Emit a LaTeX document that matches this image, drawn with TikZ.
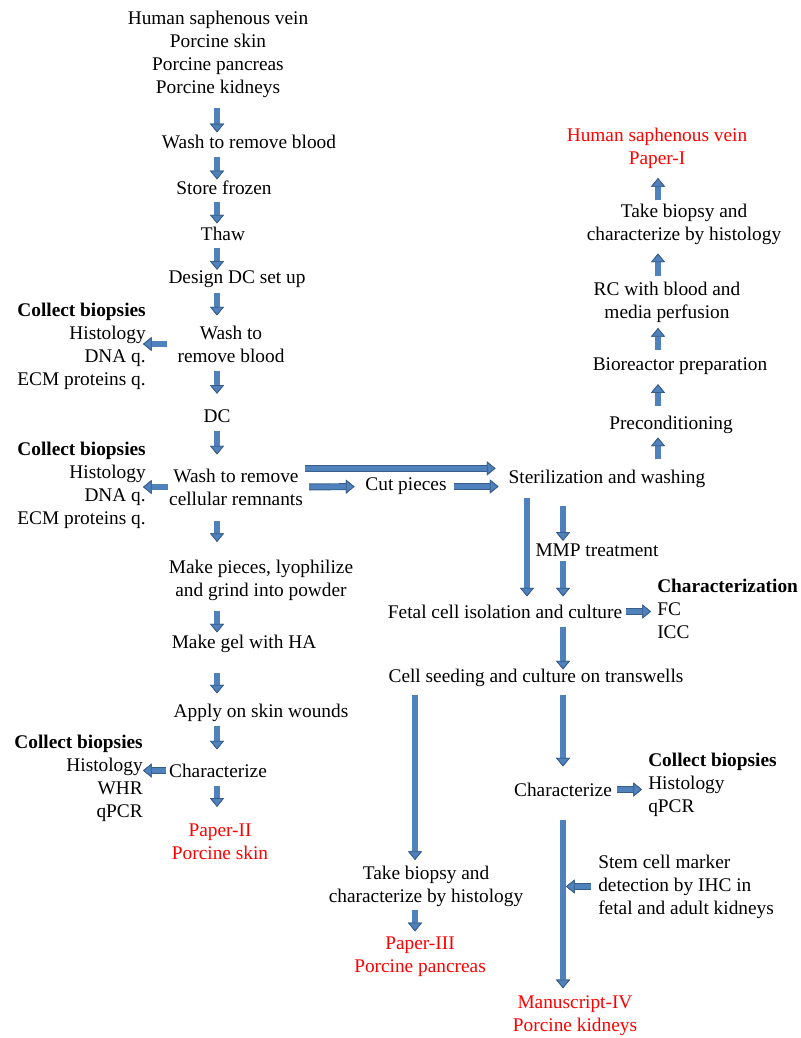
\documentclass[tikz,border=0pt]{standalone}
\usepackage{fontspec}
\setmainfont{Liberation Serif}
\usepackage{tikz}
\usetikzlibrary{arrows.meta}
\definecolor{cBlue}{HTML}{4F81BD}
\definecolor{cNavy}{HTML}{385D8A}
\definecolor{cRed}{HTML}{FF0000}

\begin{document}
\begin{tikzpicture}[x=0.75pt, y=-0.75pt,
        font=\fontsize{14.5pt}{17.25pt}\selectfont,
        txt/.style={inner sep=0pt, align=center},
        paper/.style={txt, text=cRed},
        barrow/.style={draw=cBlue, line width=3.8pt,
            -{Triangle[length=6.5pt, width=10.5pt, color=cNavy, fill=cBlue, line width=0.6pt]},
            preaction={draw=cNavy, line width=5.2pt,
                -{Triangle[length=6.5pt, width=10.5pt, color=cNavy, line width=0.6pt]}}}]
        \useasboundingbox (0,0) rectangle (800,1038);
        \coordinate (colL) at (217,0);
        \coordinate (colR) at (658,0);
        \coordinate (colA) at (527,0);
        \coordinate (colB) at (563,0);
        \coordinate (colC) at (415,0);
        \coordinate (kline) at (566,0);

        \node[txt] (src) at (218,54.5) {Human saphenous vein\\Porcine skin\\Porcine pancreas\\Porcine kidneys};
        \node[txt] (washA) at (249,141.5) {Wash to remove blood};
        \node[txt] (store) at (224,187.5) {Store frozen};
        \node[txt] (thaw) at (223,233.5) {Thaw};
        \node[txt] (design) at (237,279.5) {Design DC set up};
        \node[txt] (washB) at (231,344) {Wash to\\remove blood};
        \node[txt, anchor=east, align=right] (bioA) at (146,346.5) {\textbf{Collect biopsies}\\Histology\\DNA q.\\ECM proteins q.};
        \node[txt] (dc) at (217,416.5) {DC};
        \node[txt] (washC) at (236,487) {Wash to remove\\cellular remnants};
        \node[txt, anchor=east, align=right] (bioB) at (146,485) {\textbf{Collect biopsies}\\Histology\\DNA q.\\ECM proteins q.};
        \node[txt] (cut) at (406,486.5) {Cut pieces};
        \node[txt] (steril) at (607,478.5) {Sterilization and washing};
        \node[txt] (pieces) at (261,580.5) {Make pieces, lyophilize\\and grind into powder};
        \node[txt] (gel) at (244,643.5) {Make gel with HA};
        \node[txt] (apply) at (261,712.5) {Apply on skin wounds};
        \node[txt] (charL) at (218,770.5) {Characterize};
        \node[txt, anchor=east, align=right] (bioC) at (143,778) {\textbf{Collect biopsies}\\Histology\\WHR\\qPCR};
        \node[paper] (paperII) at (220,842) {Paper-II\\Porcine skin};

        \node[paper] (paperI) at (657,148.5) {Human saphenous vein\\Paper-I};
        \node[txt] (biopsyT) at (684,224) {Take biopsy and\\characterize by histology};
        \node[txt] (rc) at (667,302.5) {RC with blood and\\media perfusion};
        \node[txt] (bioreact) at (680,366.5) {Bioreactor preparation};
        \node[txt] (precond) at (671,424.5) {Preconditioning};

        \node[txt] (mmp) at (597,550.5) {MMP treatment};
        \node[txt] (fetal) at (505,611.5) {Fetal cell isolation and culture};
        \node[txt, anchor=west, align=left] (charz) at (657,608.5) {\textbf{Characterization}\\FC\\ICC};
        \node[txt] (seed) at (536,677.5) {Cell seeding and culture on transwells};
        \node[txt] (charR) at (563,789.5) {Characterize};
        \node[txt, anchor=west, align=left] (bioD) at (648,784.5) {\textbf{Collect biopsies}\\Histology\\qPCR};
        \node[txt] (biopsyB) at (426,886.5) {Take biopsy and\\characterize by histology};
        \node[paper] (paperIII) at (420,956.5) {Paper-III\\Porcine pancreas};
        \node[txt, anchor=west, align=left] (stem) at (598,886.5) {Stem cell marker\\detection by IHC in\\fetal and adult kidneys};
        \node[paper] (paperIV) at (575,1015.5) {Manuscript-IV\\Porcine kidneys};

        \draw[barrow, shorten <=7.5pt, shorten >=1.5pt] (src.south -| colL) -- (washA.north -| colL);
        \draw[barrow, shorten <=6pt, shorten >=0.75pt] (washA.south -| colL) -- (store.north -| colL);
        \draw[barrow, shorten <=5.25pt, shorten >=2.25pt] (store.south -| colL) -- (thaw.north -| colL);
        \draw[barrow, shorten <=5.25pt, shorten >=0.75pt] (thaw.south -| colL) -- (design.north -| colL);
        \draw[barrow, shorten <=3.75pt, shorten >=7.5pt] (design.south -| colL) -- (washB.north -| colL);
        \draw[barrow, shorten <=6pt, shorten >=12pt] (washB.south -| colL) -- (dc.north -| colL);
        \draw[barrow, shorten <=6pt, shorten >=10.5pt] (dc.south -| colL) -- (washC.north -| colL);
        \draw[barrow, shorten <=11.25pt, shorten >=13.5pt] (washC.south -| colL) -- (pieces.north -| colL);
        \draw[barrow, shorten <=7.5pt, shorten >=1.5pt] (pieces.south -| colL) -- (gel.north -| colL);
        \draw[barrow, shorten <=15pt, shorten >=7.5pt] (gel.south -| colL) -- (apply.north -| colL);
        \draw[barrow, shorten <=3pt, shorten >=10.5pt] (apply.south -| colL) -- (charL.north -| colL);
        \draw[barrow, shorten <=6pt, shorten >=12.75pt] (charL.south -| colL) -- (paperII.north -| colL);

        \draw[barrow, shorten <=7.5pt, shorten >=-2.25pt] (washB.west) -- (washB.west -| bioA.east);
        \draw[barrow, shorten <=0.75pt, shorten >=-2.25pt] (washC.west) -- (washC.west -| bioB.east);
        \draw[barrow, shorten <=2.25pt] (charL.west) -- (charL.west -| bioC.east);

        \draw[barrow, shorten <=1.5pt, shorten >=9.75pt] (washC.north east) -- (washC.north east -| steril.west);
        \draw[barrow, shorten <=4.5pt, shorten >=8pt] (washC.east) -- (cut.west);
        \draw[barrow, shorten <=5.5pt, shorten >=7.5pt] (cut.east) -- (cut.east -| steril.west);

        \draw[barrow, shorten <=7.5pt, shorten >=3pt] (steril.north -| colR) -- (precond.south -| colR);
        \draw[barrow, shorten <=6.75pt, shorten >=6.75pt] (precond.north -| colR) -- (bioreact.south -| colR);
        \draw[barrow, shorten <=6pt, shorten >=3.75pt] (bioreact.north -| colR) -- (rc.south -| colR);
        \draw[barrow, shorten <=4.5pt, shorten >=6.75pt] (rc.north -| colR) -- (biopsyT.south -| colR);
        \draw[barrow, shorten <=2.25pt, shorten >=6.75pt] (biopsyT.north -| colR) -- (paperI.south -| colR);

        \draw[barrow, shorten <=7.5pt, shorten >=6pt] (steril.south -| colA) -- (fetal.north -| colA);
        \draw[barrow, shorten <=13.5pt, shorten >=2.25pt] (steril.south -| colB) -- (mmp.north -| colB);
        \draw[barrow, shorten <=3pt, shorten >=6pt] (mmp.south -| colB) -- (fetal.north -| colB);
        \draw[barrow, shorten <=3pt, shorten >=4.5pt] (fetal.east) -- (fetal.east -| charz.west);
        \draw[barrow, shorten <=6pt, shorten >=-0.75pt] (fetal.south -| colB) -- (seed.north -| colB);
        \draw[barrow, shorten <=6pt, shorten >=4.5pt] (seed.south -| colC) -- (biopsyB.north -| colC);
        \draw[barrow, shorten <=2.25pt, shorten >=3.75pt] (biopsyB.south -| colC) -- (paperIII.north -| colC);
        \draw[barrow, shorten <=6pt, shorten >=12pt] (seed.south -| colB) -- (charR.north -| colB);
        \draw[barrow, shorten <=3.75pt, shorten >=4.5pt] (charR.east) -- (charR.east -| bioD.west);
        \draw[barrow, shorten <=17.25pt, shorten >=5.25pt] (charR.south -| colB) -- (paperIV.north -| colB);
        \draw[barrow, shorten <=5.25pt] (stem.west) -- (stem.west -| kline);
    \end{tikzpicture}
\end{document}
